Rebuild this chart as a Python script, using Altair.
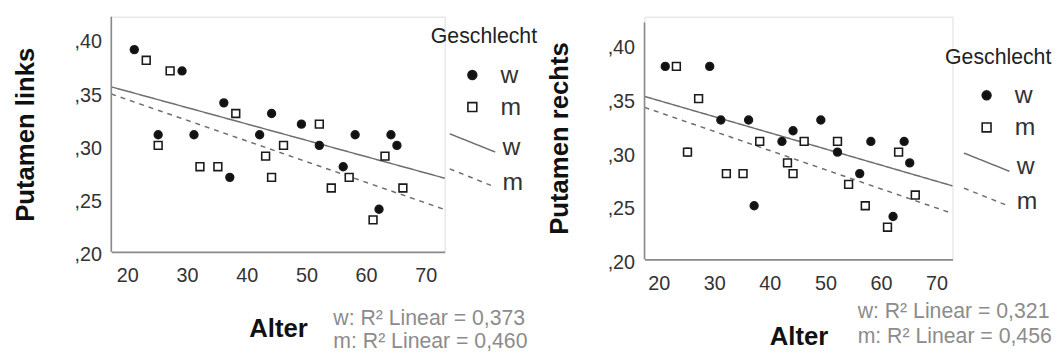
import altair as alt
import pandas as pd

# ---- data ----
sexes = ["w", "m"]
fit_labels = ["w ", "m "]
ages_w = [21, 25, 29, 31, 36, 37, 42, 44, 49, 52, 56, 58, 62, 64, 65]
links_w = [0.39, 0.31, 0.37, 0.31, 0.34, 0.27, 0.31, 0.33, 0.32, 0.30, 0.28, 0.31, 0.24, 0.31, 0.30]
rechts_w = [0.38, 0.30, 0.38, 0.33, 0.33, 0.25, 0.31, 0.32, 0.33, 0.30, 0.28, 0.31, 0.24, 0.31, 0.29]
ages_m = [23, 25, 27, 32, 35, 38, 43, 44, 46, 52, 54, 57, 61, 63, 66]
links_m = [0.38, 0.30, 0.37, 0.28, 0.28, 0.33, 0.29, 0.27, 0.30, 0.32, 0.26, 0.27, 0.23, 0.29, 0.26]
rechts_m = [0.38, 0.30, 0.35, 0.28, 0.28, 0.31, 0.29, 0.28, 0.31, 0.31, 0.27, 0.25, 0.23, 0.30, 0.26]
x_ticks = [20, 30, 40, 50, 60, 70]
y_ticks = [0.20, 0.25, 0.30, 0.35, 0.40]
r2_links = ["w: R² Linear = 0,373", "m: R² Linear = 0,460"]
r2_rechts = ["w: R² Linear = 0,321", "m: R² Linear = 0,456"]
y_axis_range = [0.20, 0.421]

FONT = "Liberation Sans"
AXIS_GRAY = "#8a8a8a"
LINE_GRAY = "#6e6e6e"
INK = "#1a1a1a"


def panel(vals_w, vals_m, ytitle, r2, xdom, ydom, w, h, lx, ly, ly2, r2x, r2y):
    df = pd.DataFrame({
        "Alter": ages_w + ages_m,
        "Wert": vals_w + vals_m,
        "Geschlecht": ["w"] * len(ages_w) + ["m"] * len(ages_m),
    })
    xscale = alt.Scale(domain=xdom, nice=False, zero=False)
    yscale = alt.Scale(domain=ydom, nice=False, zero=False)
    xenc = alt.X("Alter:Q", scale=xscale,
                 axis=alt.Axis(values=x_ticks, format="d", title="Alter", grid=False, ticks=False,
                               domainColor=AXIS_GRAY, domainWidth=1.6, labelFlush=False,
                               labelFont=FONT, labelFontSize=20, labelColor="#333",
                               labelPadding=14, labelOffset=-1,
                               titleFont=FONT, titleFontSize=26, titleFontWeight="bold",
                               titleColor="#111", titlePadding=31))
    yenc = alt.Y("Wert:Q", scale=yscale,
                 axis=alt.Axis(values=y_ticks, labelExpr="replace(format(datum.value, '.2f'), '0.', ',')",
                               title=ytitle, grid=False, ticks=False, domain=False,
                               labelFont=FONT, labelFontSize=20, labelColor="#333",
                               labelPadding=10, labelOffset=3,
                               titleFont=FONT, titleFontSize=26, titleFontWeight="bold",
                               titleColor="#111", titlePadding=35.5))
    leg1 = alt.Legend(title="Geschlecht", orient="none", legendX=lx, legendY=ly, padding=0,
                      titleFont=FONT, titleFontSize=21.5, titleFontWeight="normal", titleColor="#222",
                      titlePadding=15, labelFont=FONT, labelFontSize=25, labelColor="#333",
                      symbolOffset=29.5, symbolSize=80, symbolStrokeWidth=1.6,
                      rowPadding=6.5, labelOffset=16)
    leg2 = alt.Legend(title=None, orient="none", legendX=lx, legendY=ly2, padding=0,
                      labelFont=FONT, labelFontSize=25, labelColor="#333",
                      symbolType="M-2,-1.17L2,0.43", symbolSize=529,
                      symbolStrokeColor=LINE_GRAY, symbolStrokeWidth=1.5,
                      symbolOffset=29.6, rowPadding=5.5, labelOffset=18)
    base = alt.Chart(df)
    # y axis line, spanning the axis range only
    axis_line = alt.Chart(pd.DataFrame({"a": [0]})).mark_rule(color=AXIS_GRAY, strokeWidth=1.6).encode(
        x=alt.datum(xdom[0], type="quantitative", scale=xscale),
        y=alt.datum(y_axis_range[0], type="quantitative", scale=yscale),
        y2=alt.datum(y_axis_range[1]),
    )
    pts = base.mark_point(filled=True, opacity=1, size=62, strokeWidth=1.6).encode(
        x=xenc, y=yenc,
        shape=alt.Shape("Geschlecht:N", scale=alt.Scale(domain=sexes, range=["circle", "square"]), legend=leg1),
        fill=alt.Fill("Geschlecht:N", scale=alt.Scale(domain=sexes, range=["#111111", "white"]), legend=leg1),
        stroke=alt.Stroke("Geschlecht:N", scale=alt.Scale(domain=sexes, range=[INK, INK]), legend=leg1),
    )
    lines = base.transform_regression(
        "Alter", "Wert", groupby=["Geschlecht"], extent=xdom
    ).transform_calculate(Linie="datum.Geschlecht + ' '").mark_line(color=LINE_GRAY, strokeWidth=1.5).encode(
        x=xenc, y=yenc,
        strokeDash=alt.StrokeDash("Linie:N", scale=alt.Scale(domain=fit_labels, range=[[1, 0], [5, 5]]),
                                  legend=leg2),
    )
    texts = []
    for i, t in enumerate(r2):
        texts.append(
            alt.Chart(pd.DataFrame({"t": [t]})).mark_text(
                align="left", baseline="middle", font=FONT, fontSize=21.5, color="#8c8c8c"
            ).encode(x=alt.value(r2x), y=alt.value(r2y[i]), text="t:N")
        )
    return alt.layer(lines, pts, axis_line, *texts).properties(width=w, height=h)


left = panel(links_w, links_m, "Putamen links", r2_links, [17.14, 73.0], [0.20, 0.421],
             337.4, 238, 323.4, 10, 119.5, 224.7, [305.6, 329.0])
right = panel(rechts_w, rechts_m, "Putamen rechts", r2_rechts, [17.26, 72.7], [0.20, 0.4264],
              311.7, 245.6, 304.2, 30.6, 139.0, 215.7, [299.0, 324.6])

chart = alt.hconcat(left, right, spacing=201.6, bounds="flush").resolve_scale(
    x="independent", y="independent", shape="independent", fill="independent",
    stroke="independent", strokeDash="independent"
).resolve_legend(
    shape="independent", fill="independent", stroke="independent", strokeDash="independent"
).properties(
    padding={"left": 4.5, "top": 4.7, "right": 0, "bottom": 0}
).configure_view(stroke=None).configure(font=FONT, background="white")

chart.save("out.html", embed_options={"renderer": "svg", "actions": False})
